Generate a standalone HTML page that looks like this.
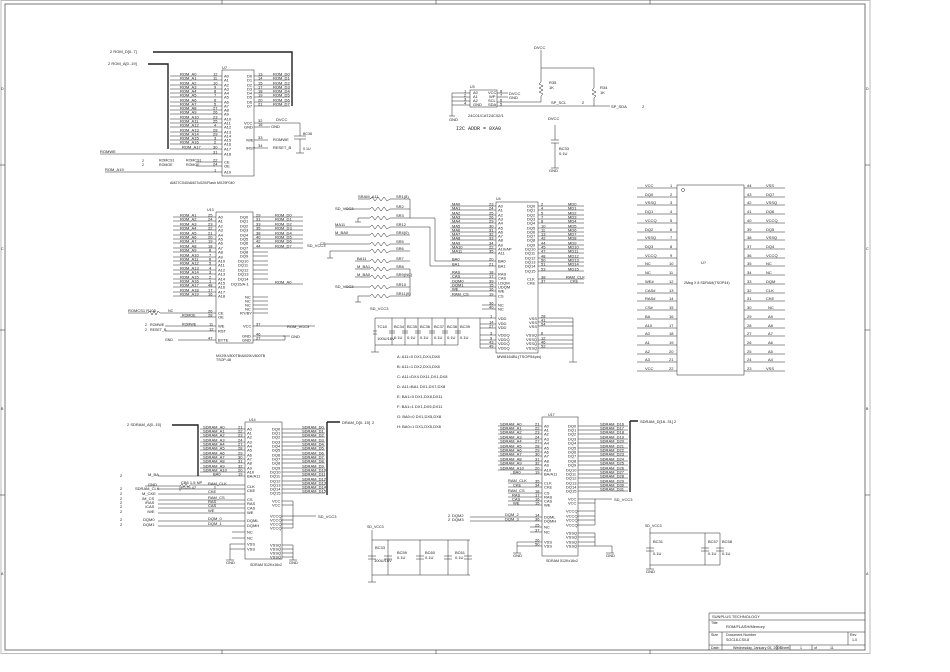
<!DOCTYPE html>
<html><head><meta charset="utf-8">
<style>
html,body{margin:0;padding:0;background:#fff;}
svg{display:block}
text{font-family:"Liberation Sans",sans-serif;font-size:4px;fill:#222}
.s{font-size:3.6px}
.l{stroke:#222;stroke-width:0.5;fill:none}
.b{stroke:#222;stroke-width:1.4;fill:none}
.f{stroke:#777;stroke-width:1;fill:none}
</style></head><body>
<svg width="950" height="672" viewBox="0 0 950 672" xmlns="http://www.w3.org/2000/svg">
<rect x="0" y="0" width="950" height="672" fill="#fff"/>
<!-- frame -->
<rect x="1" y="0.5" width="869" height="653" class="f" style="stroke:#bbb"/>
<rect x="5" y="4" width="860" height="646" class="f"/>
<path class="l" d="M222 0V4M436 0V4M650 0V4M222 650V654M436 650V654M650 650V654M0 165H5M0 330H5M0 495H5M865 165H870M865 330H870M865 495H870"/>
<text x="1" y="90" class="s">D</text><text x="1" y="250" class="s">C</text><text x="1" y="410" class="s">B</text><text x="1" y="575" class="s">A</text>
<text x="866" y="90" class="s">D</text><text x="866" y="250" class="s">C</text><text x="866" y="410" class="s">B</text><text x="866" y="575" class="s">A</text>

<!-- title block -->
<path class="l" d="M709 613H865M709 613V650M709 620H865M709 632H865M709 645H865M722 632V650M848 632V645M777 645V650M790 645V650M812 645V650"/>
<text x="712" y="618">SUNPLUS TECHNOLOGY</text>
<text x="711" y="624" class="s">Title</text><text x="726" y="628">ROM/FLASH/Memory</text>
<text x="711" y="636" class="s">Size</text><text x="726" y="636" class="s">Document Number</text><text x="726" y="641" class="s">SOC18-CS0-8</text>
<text x="850" y="636" class="s">Rev</text><text x="852" y="641" class="s">1.0</text>
<text x="711" y="649" class="s">Date:</text><text x="733" y="649" class="s">Wednesday, January 05, 2005</text>
<text x="780" y="649" class="s">Sheet</text><text x="800" y="649" class="s">1</text><text x="814" y="649" class="s">of</text><text x="830" y="649" class="s">11</text>

<!-- ============ U7 flash ============ -->
<text x="110" y="53">2 ROM_D[0..7]</text>
<text x="108" y="65">2 ROM_A[0..19]</text>
<path class="b" d="M153 52H292V106M148 64H168V149"/>
<rect x="222" y="70" width="32" height="106" class="l"/>
<text x="222" y="69">U7</text>
<path class="l" d="M170 76H222M170 80H222M170 85H222M170 89H222M170 93H222M170 97H222M170 102H222M170 106H222M170 110H222M170 114H222M170 119H222M170 123H222M170 127H222M170 132H222M170 136H222M170 140H222M170 144H222M170 149H222M100 154H222M196 162H222M196 166H222M105 172H222"/>
<g class="s">
<text x="180" y="75.5">ROM_A0</text><text x="180" y="79.5">ROM_A1</text><text x="180" y="84.5">ROM_A2</text><text x="180" y="88.5">ROM_A3</text><text x="180" y="92.5">ROM_A4</text><text x="180" y="96.5">ROM_A5</text><text x="180" y="101.5">ROM_A6</text><text x="180" y="105.5">ROM_A7</text><text x="180" y="109.5">ROM_A8</text><text x="180" y="113.5">ROM_A9</text><text x="180" y="118.5">ROM_A10</text><text x="180" y="122.5">ROM_A11</text><text x="180" y="126.5">ROM_A12</text><text x="180" y="131.5">ROM_A13</text><text x="180" y="135.5">ROM_A14</text><text x="180" y="139.5">ROM_A15</text><text x="180" y="143.5">ROM_A16</text><text x="182" y="148.5">ROM_A17</text>
<text x="213" y="75.5">12</text><text x="213" y="79.5">11</text><text x="213" y="84.5">10</text><text x="214" y="88.5">9</text><text x="214" y="92.5">8</text><text x="214" y="96.5">7</text><text x="214" y="101.5">6</text><text x="214" y="105.5">5</text><text x="213" y="109.5">27</text><text x="213" y="113.5">26</text><text x="213" y="118.5">23</text><text x="213" y="122.5">25</text><text x="214" y="126.5">4</text><text x="213" y="131.5">28</text><text x="213" y="135.5">29</text><text x="214" y="139.5">3</text><text x="214" y="143.5">2</text><text x="213" y="148.5">30</text><text x="213" y="153.5">31</text><text x="213" y="161.5">22</text><text x="213" y="165.5">24</text><text x="214" y="171.5">1</text>
<text x="224" y="77.5">A0</text><text x="224" y="81.5">A1</text><text x="224" y="86.5">A2</text><text x="224" y="90.5">A3</text><text x="224" y="94.5">A4</text><text x="224" y="98.5">A5</text><text x="224" y="103.5">A6</text><text x="224" y="107.5">A7</text><text x="224" y="111.5">A8</text><text x="224" y="115.5">A9</text><text x="224" y="120.5">A10</text><text x="224" y="124.5">A11</text><text x="224" y="128.5">A12</text><text x="224" y="133.5">A13</text><text x="224" y="137.5">A14</text><text x="224" y="141.5">A15</text><text x="224" y="145.5">A16</text><text x="224" y="150.5">A17</text><text x="224" y="155.5">A18</text><text x="224" y="163.5">CE</text><text x="224" y="167.5">OE</text><text x="224" y="173.5">A19</text>
<text x="247" y="77.5">D0</text><text x="247" y="81.5">D1</text><text x="247" y="86.5">D2</text><text x="247" y="90.5">D3</text><text x="247" y="94.5">D4</text><text x="247" y="98.5">D5</text><text x="247" y="103.5">D6</text><text x="247" y="107.5">D7</text>
<text x="244" y="124.5">VCC</text><text x="244" y="128.5">GND</text><text x="246" y="141.5">/WE</text><text x="246" y="149.5">/RST</text>
<text x="258" y="75.5">13</text><text x="258" y="79.5">14</text><text x="258" y="84.5">15</text><text x="258" y="88.5">17</text><text x="258" y="92.5">18</text><text x="258" y="96.5">19</text><text x="258" y="101.5">20</text><text x="258" y="105.5">21</text>
<text x="273" y="75.5">ROM_D0</text><text x="273" y="79.5">ROM_D1</text><text x="273" y="84.5">ROM_D2</text><text x="273" y="88.5">ROM_D3</text><text x="273" y="92.5">ROM_D4</text><text x="273" y="96.5">ROM_D5</text><text x="273" y="101.5">ROM_D6</text><text x="273" y="105.5">ROM_D7</text>
<text x="258" y="122">32</text><text x="258" y="126">16</text><text x="258" y="139">33</text><text x="258" y="147">34</text>
</g>
<path class="l" d="M254 76H290M254 80H290M254 85H290M254 89H290M254 93H290M254 97H290M254 102H290M254 106H290M254 123H300V136M254 127H270M254 140H268M254 148H268M294 136H306M294 139H306M300 139V153M296 153H304"/>
<text x="276" y="121">DVCC</text><text x="271" y="128">GND</text><text x="273" y="141">ROMWE</text><text x="273" y="149">RESET_B</text>
<text x="303" y="135" class="s">BC38</text><text x="303" y="150" class="s">0.1U</text>
<text x="100" y="153">ROMWE</text><text x="105" y="171">ROM_A19</text>
<text x="142" y="162" class="s">2</text><text x="142" y="166" class="s">2</text><text x="159" y="161.5" class="s">ROMCS1</text><text x="159" y="166" class="s">ROMOE</text><text x="186" y="161.5" class="s">ROMCS1</text><text x="186" y="166" class="s">ROMOE</text>
<text x="170" y="184" class="s">AM27C040/AM27c020/Flash MX29F040</text>

<!-- ============ U13 flash ============ -->
<rect x="216" y="212" width="37" height="131" class="l"/>
<text x="207" y="211" class="s">U13</text>
<path class="l" d="M173 217H216M173 221H216M173 226H216M173 230H216M173 235H216M173 239H216M173 243H216M173 248H216M173 252H216M173 257H216M173 261H216M173 265H216M173 270H216M173 274H216M173 279H216M173 283H216M173 287H216M173 292H216M173 296H216M253 217H303M253 221H303M253 226H303M253 230H303M253 235H303M253 239H303M253 243H303M253 248H303M253 252H268M253 256H268M253 261H268M253 265H268M253 270H268M253 274H268M253 279H268M253 284H303M253 297H268M253 301H268M253 305H268M253 309H268M253 313H268M128 313H148l2 -2 2 4 2 -4 2 4 2 -4 2 2H216M180 317H216M165 326H216M165 331H216M178 340H216M253 326H315M253 336H285V340M253 340H285M283 336H290"/>
<g class="s">
<text x="180" y="216.5">ROM_A1</text><text x="180" y="220.5">ROM_A2</text><text x="180" y="225.5">ROM_A3</text><text x="180" y="229.5">ROM_A4</text><text x="180" y="234.5">ROM_A5</text><text x="180" y="238.5">ROM_A6</text><text x="180" y="242.5">ROM_A7</text><text x="180" y="247.5">ROM_A8</text><text x="180" y="251.5">ROM_A9</text><text x="180" y="256.5">ROM_A10</text><text x="180" y="260.5">ROM_A11</text><text x="180" y="264.5">ROM_A12</text><text x="180" y="269.5">ROM_A13</text><text x="180" y="273.5">ROM_A14</text><text x="180" y="278.5">ROM_A15</text><text x="180" y="282.5">ROM_A16</text><text x="180" y="286.5">ROM_A17</text><text x="180" y="291.5">ROM_A18</text><text x="180" y="295.5">ROM_A19</text>
<text x="208" y="216.5">25</text><text x="208" y="220.5">24</text><text x="208" y="225.5">23</text><text x="208" y="229.5">22</text><text x="208" y="234.5">21</text><text x="208" y="238.5">20</text><text x="208" y="242.5">19</text><text x="208" y="247.5">18</text><text x="209" y="251.5">8</text><text x="209" y="256.5">7</text><text x="209" y="260.5">6</text><text x="209" y="264.5">5</text><text x="209" y="269.5">4</text><text x="209" y="273.5">3</text><text x="209" y="278.5">2</text><text x="209" y="282.5">1</text><text x="208" y="286.5">48</text><text x="208" y="291.5">17</text><text x="208" y="295.5">16</text>
<text x="218" y="218.5">A0</text><text x="218" y="222.5">A1</text><text x="218" y="227.5">A2</text><text x="218" y="231.5">A3</text><text x="218" y="236.5">A4</text><text x="218" y="240.5">A5</text><text x="218" y="244.5">A6</text><text x="218" y="249.5">A7</text><text x="218" y="253.5">A8</text><text x="218" y="258.5">A9</text><text x="218" y="262.5">A10</text><text x="218" y="266.5">A11</text><text x="218" y="271.5">A12</text><text x="218" y="275.5">A13</text><text x="218" y="280.5">A14</text><text x="218" y="284.5">A15</text><text x="218" y="288.5">A16</text><text x="218" y="293.5">A17</text><text x="218" y="297.5">A18</text>
<text x="240" y="218.5">DQ0</text><text x="240" y="222.5">DQ1</text><text x="240" y="227.5">DQ2</text><text x="240" y="231.5">DQ3</text><text x="240" y="236.5">DQ4</text><text x="240" y="240.5">DQ5</text><text x="240" y="244.5">DQ6</text><text x="240" y="249.5">DQ7</text><text x="240" y="253.5">DQ8</text><text x="240" y="257.5">DQ9</text><text x="238" y="262.5">DQ10</text><text x="238" y="266.5">DQ11</text><text x="238" y="271.5">DQ12</text><text x="238" y="275.5">DQ13</text><text x="238" y="280.5">DQ14</text><text x="231" y="285.5">DQ15/A-1</text>
<text x="245" y="298.5">NC</text><text x="245" y="302.5">NC</text><text x="245" y="306.5">NC</text><text x="245" y="310.5">NC</text><text x="240" y="314.5">RY/BY</text>
<text x="218" y="314.5">CE</text><text x="218" y="318.5">OE</text><text x="218" y="327.5">WE</text><text x="218" y="332.5">RST</text><text x="218" y="341.5">BYTE</text>
<text x="243" y="327.5">VCC</text><text x="242" y="337.5">GND</text><text x="242" y="341.5">GND</text>
<text x="256" y="216.5">29</text><text x="256" y="220.5">31</text><text x="256" y="225.5">33</text><text x="256" y="229.5">35</text><text x="256" y="234.5">38</text><text x="256" y="238.5">40</text><text x="256" y="242.5">42</text><text x="256" y="247.5">44</text>
<text x="275" y="216.5">ROM_D0</text><text x="275" y="220.5">ROM_D1</text><text x="275" y="225.5">ROM_D2</text><text x="275" y="229.5">ROM_D3</text><text x="275" y="234.5">ROM_D4</text><text x="275" y="238.5">ROM_D5</text><text x="275" y="242.5">ROM_D6</text><text x="275" y="247.5">ROM_D7</text><text x="275" y="283.5">ROM_A0</text>
<text x="208" y="312.5">26</text><text x="208" y="316.5">28</text><text x="209" y="325.5">11</text><text x="209" y="330.5">12</text><text x="208" y="339.5">47</text><text x="256" y="325.5">37</text><text x="256" y="335.5">46</text><text x="256" y="339.5">27</text>
</g>
<text x="307" y="247">SD_VCC3</text>
<text x="128" y="312">ROMCS1 R105</text><text x="168" y="312" class="s">NC</text>
<text x="182" y="316.5" class="s">ROMOE</text><text x="182" y="325.5" class="s">ROMWE</text>
<text x="145" y="326" class="s">2</text><text x="145" y="331" class="s">2</text><text x="150" y="326" class="s">ROMWE</text><text x="150" y="331" class="s">RESET_B</text><text x="165" y="341" class="s">GND</text>
<text x="287" y="328">ROM_VCC3</text><text x="291" y="338">GND</text>
<text x="216" y="357" class="s">MX29LV800TB/AM29LV800TB</text><text x="216" y="361" class="s">TSOP-48</text>

<!-- ============ SR resistors ============ -->
<path class="l" d="M358 199H370l2 -2 3 4 3 -4 3 4 3 -4 3 4 3 -2H410M345 209H370l2 -2 3 4 3 -4 3 4 3 -4 3 4 3 -2H410M358 218H370l2 -2 3 4 3 -4 3 4 3 -4 3 4 3 -2H410M335 227H370l2 -2 3 4 3 -4 3 4 3 -4 3 4 3 -2H410M335 235H370l2 -2 3 4 3 -4 3 4 3 -4 3 4 3 -2H410M325 244H370l2 -2 3 4 3 -4 3 4 3 -4 3 4 3 -2H410M330 251H370l2 -2 3 4 3 -4 3 4 3 -4 3 4 3 -2H410M355 261H370l2 -2 3 4 3 -4 3 4 3 -4 3 4 3 -2H410M355 269H370l2 -2 3 4 3 -4 3 4 3 -4 3 4 3 -2H410M355 277H370l2 -2 3 4 3 -4 3 4 3 -4 3 4 3 -2H410M345 287H370l2 -2 3 4 3 -4 3 4 3 -4 3 4 3 -2H410M358 296H370l2 -2 3 4 3 -4 3 4 3 -4 3 4 3 -2H410M410 199V218M410 218H435V261H496M410 227H430V266H496M410 269V296M358 218V222M355 222H361M330 251V258M327 258H333M358 296V302M355 302H361"/>
<g class="s">
<text x="396" y="198">SR1(8)</text><text x="396" y="208">SR2</text><text x="396" y="217">SR3</text><text x="396" y="226">SR12</text><text x="396" y="234">SR4(0)</text><text x="396" y="243">SR5</text><text x="396" y="250">SR6</text><text x="396" y="260">SR7</text><text x="396" y="268">SR8</text><text x="396" y="276">SR9(NC)</text><text x="396" y="286">SR10</text><text x="396" y="295">SR11(0)</text>
<text x="358" y="198">SRAM_A11</text><text x="335" y="210">SD_VCC3</text><text x="335" y="226">MA11</text><text x="335" y="234">M_BA0</text><text x="320" y="245">CS</text><text x="357" y="260">BA11</text><text x="357" y="268">M_BA1</text><text x="357" y="276">M_BA0</text><text x="335" y="288">SD_VCC3</text>
</g>

<!-- ============ U4 SDRAM ============ -->
<rect x="496" y="202" width="42" height="151" class="l"/>
<text x="496" y="200" class="s">U4</text>
<path class="l" d="M450 206H496M450 210H496M450 215H496M450 219H496M450 223H496M450 228H496M450 232H496M450 236H496M450 240H496M450 245H496M450 249H496M450 253H496M450 274H496M450 278H496M450 283H496M450 287H496M450 291H496M450 296H496M482 305H496M482 309H496M538 206H584M538 210H584M538 215H584M538 219H584M538 223H584M538 228H584M538 232H584M538 236H584M538 240H584M538 245H584M538 249H584M538 253H584M538 258H584M538 262H584M538 266H584M538 271H584M538 279H584M538 283H584M375 318H496M480 324H496M480 328H496M480 318V348M480 335H496M480 340H496M480 344H496M480 348H496M538 318H573M538 322H573M538 326H573M538 335H573M538 340H573M538 344H573M538 348H573M573 318V362M569 362H577M375 318V352M392 318V345M405 318V345M418 318V345M432 318V345M445 318V345M458 318V345M375 345H458M371 352H379M373 331H377M373 334H377M389 331H395M389 333H395M402 331H408M402 333H408M415 331H421M415 333H421M429 331H435M429 333H435M442 331H448M442 333H448M455 331H461M455 333H461"/>
<g class="s">
<text x="452" y="205.5">MA0</text><text x="452" y="209.5">MA1</text><text x="452" y="214.5">MA2</text><text x="452" y="218.5">MA3</text><text x="452" y="222.5">MA4</text><text x="452" y="227.5">MA5</text><text x="452" y="231.5">MA6</text><text x="452" y="235.5">MA7</text><text x="452" y="239.5">MA8</text><text x="452" y="244.5">MA9</text><text x="452" y="248.5">MA10</text><text x="452" y="252.5">MA11</text>
<text x="452" y="260.5">BA0</text><text x="452" y="265.5">BA1</text><text x="452" y="273.5">RAS</text><text x="452" y="277.5">CAS</text><text x="452" y="282.5">DQM0</text><text x="452" y="286.5">DQM1</text><text x="452" y="290.5">WE</text><text x="452" y="295.5">RAM_CS</text>
<text x="489" y="205.5">23</text><text x="489" y="209.5">24</text><text x="489" y="214.5">25</text><text x="489" y="218.5">26</text><text x="489" y="222.5">29</text><text x="489" y="227.5">30</text><text x="489" y="231.5">31</text><text x="489" y="235.5">32</text><text x="489" y="239.5">33</text><text x="489" y="244.5">34</text><text x="489" y="248.5">22</text><text x="489" y="252.5">35</text><text x="489" y="260.5">20</text><text x="489" y="265.5">21</text><text x="489" y="273.5">18</text><text x="489" y="277.5">17</text><text x="489" y="282.5">39</text><text x="489" y="286.5">15</text><text x="489" y="290.5">16</text><text x="489" y="295.5">19</text><text x="489" y="304.5">36</text><text x="489" y="308.5">40</text><text x="490" y="317.5">1</text><text x="489" y="323.5">14</text><text x="489" y="327.5">27</text><text x="490" y="334.5">3</text><text x="490" y="339.5">9</text><text x="489" y="343.5">43</text><text x="489" y="347.5">49</text>
<text x="498" y="207.5">A0</text><text x="498" y="211.5">A1</text><text x="498" y="216.5">A2</text><text x="498" y="220.5">A3</text><text x="498" y="224.5">A4</text><text x="498" y="229.5">A5</text><text x="498" y="233.5">A6</text><text x="498" y="237.5">A7</text><text x="498" y="241.5">A8</text><text x="498" y="246.5">A9</text><text x="498" y="250.5">A10/AP</text><text x="498" y="254.5">A11</text><text x="498" y="262.5">BA0</text><text x="498" y="267.5">BA1</text><text x="498" y="275.5">RAS</text><text x="498" y="279.5">CAS</text><text x="498" y="284.5">LDQM</text><text x="498" y="288.5">UDQM</text><text x="498" y="292.5">WE</text><text x="498" y="297.5">CS</text><text x="498" y="306.5">NC</text><text x="498" y="310.5">NC</text><text x="498" y="320">VDD</text><text x="498" y="325">VDD</text><text x="498" y="329">VDD</text><text x="498" y="336.5">VDDQ</text><text x="498" y="341">VDDQ</text><text x="498" y="345">VDDQ</text><text x="498" y="349.5">VDDQ</text>
<text x="527" y="207.5">DQ0</text><text x="527" y="211.5">DQ1</text><text x="527" y="216.5">DQ2</text><text x="527" y="220.5">DQ3</text><text x="527" y="224.5">DQ4</text><text x="527" y="229.5">DQ5</text><text x="527" y="233.5">DQ6</text><text x="527" y="237.5">DQ7</text><text x="527" y="241.5">DQ8</text><text x="527" y="246.5">DQ9</text><text x="525" y="250.5">DQ10</text><text x="525" y="254.5">DQ11</text><text x="525" y="259.5">DQ12</text><text x="525" y="263.5">DQ13</text><text x="525" y="267.5">DQ14</text><text x="525" y="272.5">DQ15</text><text x="527" y="280.5">CLK</text><text x="527" y="284.5">CKE</text>
<text x="529" y="320">VSS</text><text x="529" y="324">VSS</text><text x="529" y="328">VSS</text><text x="526" y="336.5">VSSQ</text><text x="526" y="341">VSSQ</text><text x="526" y="345">VSSQ</text><text x="526" y="349.5">VSSQ</text>
<text x="541" y="205.5">2</text><text x="541" y="209.5">4</text><text x="541" y="214.5">5</text><text x="541" y="218.5">7</text><text x="541" y="222.5">8</text><text x="541" y="227.5">10</text><text x="541" y="231.5">11</text><text x="541" y="235.5">13</text><text x="541" y="239.5">42</text><text x="541" y="244.5">44</text><text x="541" y="248.5">45</text><text x="541" y="252.5">47</text><text x="541" y="257.5">48</text><text x="541" y="261.5">50</text><text x="541" y="265.5">51</text><text x="541" y="270.5">53</text><text x="541" y="278.5">38</text><text x="541" y="282.5">37</text>
<text x="568" y="205.5">MD0</text><text x="568" y="209.5">MD1</text><text x="568" y="214.5">MD2</text><text x="568" y="218.5">MD3</text><text x="568" y="222.5">MD4</text><text x="568" y="227.5">MD5</text><text x="568" y="231.5">MD6</text><text x="568" y="235.5">MD7</text><text x="568" y="239.5">MD8</text><text x="568" y="244.5">MD9</text><text x="568" y="248.5">MD10</text><text x="568" y="252.5">MD11</text><text x="568" y="257.5">MD12</text><text x="568" y="261.5">MD13</text><text x="568" y="265.5">MD14</text><text x="568" y="270.5">MD15</text><text x="566" y="278.5">RAM_CLK</text><text x="570" y="282.5">CKE</text>
<text x="541" y="317.5">28</text><text x="541" y="321.5">41</text><text x="541" y="325.5">54</text><text x="541" y="334.5">6</text><text x="541" y="339.5">12</text><text x="541" y="343.5">46</text><text x="541" y="347.5">52</text>
<text x="497" y="358">MW8164BL(TSOP54pin)</text>
<text x="377" y="328">TC18</text><text x="377" y="340">100U/16V</text>
<text x="394" y="328">BC34</text><text x="407" y="328">BC35</text><text x="420" y="328">BC36</text><text x="434" y="328">BC37</text><text x="447" y="328">BC38</text><text x="460" y="328">BC39</text>
<text x="394" y="339">0.1U</text><text x="407" y="339">0.1U</text><text x="420" y="339">0.1U</text><text x="434" y="339">0.1U</text><text x="447" y="339">0.1U</text><text x="460" y="339">0.1U</text>
</g>
<text x="370" y="310">SD_VCC3</text>
<g class="s" style="font-family:'Liberation Mono',monospace">
<text x="397" y="358">A: A11=0 DX1,DX4,DX8</text><text x="397" y="368">B: A11=1 DX2,DX4,DX8</text><text x="397" y="378">C: A11=DX4 DX11,DX1,DX8</text><text x="397" y="388">D: A11=BA1 DX1,DX7,DX8</text><text x="397" y="398">E: BA1=0 DX1,DX8,DX11</text><text x="397" y="408">F: BA1=1 DX1,DX5,DX11</text><text x="397" y="418">G: BA0=0 DX1,DX5,DX8</text><text x="397" y="428">H: BA0=1 DX1,DX5,DX8</text>
</g>

<!-- ============ I2C EEPROM ============ -->
<rect x="470" y="90" width="27" height="17" class="l"/>
<text x="470" y="88" class="s">U3</text>
<path class="l" d="M452 93H470M452 97H470M452 101H470M452 105H470M452 93V116M449 116H455M497 93H508M497 97H508M497 102H541M497 106H594M541 50V82l-2 2 4 2 -4 2 4 2 -4 2 4 2 -2 2V102M541 68H594V88l-2 2 4 2 -4 2 4 2 -2 2V106M594 106H610M555 125V140M551 140H559M551 143H559M555 143V168M551 168H559"/>
<g class="s">
<text x="473" y="94">A0</text><text x="473" y="98">A1</text><text x="473" y="102">A2</text><text x="473" y="106">GND</text><text x="488" y="94">VCC</text><text x="489" y="98">WP</text><text x="488" y="102">SCL</text><text x="488" y="106">SDA</text>
<text x="464" y="92.5">1</text><text x="464" y="96.5">2</text><text x="464" y="100.5">3</text><text x="464" y="104.5">4</text><text x="500" y="92.5">8</text><text x="500" y="96.5">7</text><text x="500" y="101.5">6</text><text x="500" y="105.5">5</text>
<text x="509" y="95">DVCC</text><text x="509" y="99">GND</text><text x="449" y="121">GND</text>
<text x="534" y="49">DVCC</text><text x="549" y="84">R35</text><text x="549" y="89">1K</text><text x="600" y="89">R34</text><text x="600" y="94">1K</text>
<text x="551" y="104">SP_SCL</text><text x="582" y="104">2</text><text x="611" y="108">SP_SDA</text><text x="642" y="108">2</text>
<text x="548" y="120">DVCC</text><text x="559" y="150">BC33</text><text x="559" y="155">0.1U</text><text x="549" y="172">GND</text>
<text x="468" y="117">24C01/CAT24C02/1</text>
</g>
<text x="456" y="130" style="font-family:'Liberation Mono',monospace;font-size:5px">I2C ADDR = 0XA0</text>

<!-- ============ U? big SDRAM TSOP44 ============ -->
<rect x="677" y="185" width="67" height="190" class="l"/>
<circle cx="683" cy="190" r="1.5" class="l"/>
<path class="l" d="M637 188H677M637 197H677M637 205H677M637 214H677M637 223H677M637 232H677M637 240H677M637 249H677M637 258H677M637 266H677M637 275H677M637 284H677M637 293H677M637 301H677M637 310H677M637 319H677M637 328H677M637 336H677M637 345H677M637 354H677M637 362H677M637 371H677M744 188H785M744 197H785M744 205H785M744 214H785M744 223H785M744 232H785M744 240H785M744 249H785M744 258H785M744 266H785M744 275H785M744 284H785M744 293H785M744 301H785M744 310H785M744 319H785M744 328H785M744 336H785M744 345H785M744 354H785M744 362H785M744 371H785"/>
<g class="s">
<text x="645" y="187">VCC</text><text x="645" y="196">DQ0</text><text x="645" y="204">VSSQ</text><text x="645" y="213">DQ1</text><text x="645" y="222">VCCQ</text><text x="645" y="231">DQ2</text><text x="645" y="239">VSSQ</text><text x="645" y="248">DQ3</text><text x="645" y="257">VCCQ</text><text x="645" y="265">NC</text><text x="645" y="274">NC</text><text x="645" y="283">WE#</text><text x="645" y="292">CAS#</text><text x="645" y="300">RAS#</text><text x="645" y="309">CS#</text><text x="645" y="318">BA</text><text x="645" y="327">A10</text><text x="645" y="335">A0</text><text x="645" y="344">A1</text><text x="645" y="353">A2</text><text x="645" y="361">A3</text><text x="645" y="370">VCC</text>
<text x="670" y="187">1</text><text x="670" y="196">2</text><text x="670" y="204">3</text><text x="670" y="213">4</text><text x="670" y="222">5</text><text x="670" y="231">6</text><text x="670" y="239">7</text><text x="670" y="248">8</text><text x="670" y="257">9</text><text x="669" y="265">10</text><text x="669" y="274">11</text><text x="669" y="283">12</text><text x="669" y="292">13</text><text x="669" y="300">14</text><text x="669" y="309">15</text><text x="669" y="318">16</text><text x="669" y="327">17</text><text x="669" y="335">18</text><text x="669" y="344">19</text><text x="669" y="353">20</text><text x="669" y="361">21</text><text x="669" y="370">22</text>
<text x="747" y="187">44</text><text x="747" y="196">43</text><text x="747" y="204">42</text><text x="747" y="213">41</text><text x="747" y="222">40</text><text x="747" y="231">39</text><text x="747" y="239">38</text><text x="747" y="248">37</text><text x="747" y="257">36</text><text x="747" y="265">35</text><text x="747" y="274">34</text><text x="747" y="283">33</text><text x="747" y="292">32</text><text x="747" y="300">31</text><text x="747" y="309">30</text><text x="747" y="318">29</text><text x="747" y="327">28</text><text x="747" y="335">27</text><text x="747" y="344">26</text><text x="747" y="353">25</text><text x="747" y="361">24</text><text x="747" y="370">23</text>
<text x="766" y="187">VSS</text><text x="766" y="196">DQ7</text><text x="766" y="204">VSSQ</text><text x="766" y="213">DQ6</text><text x="766" y="222">VCCQ</text><text x="766" y="231">DQ5</text><text x="766" y="239">VSSQ</text><text x="766" y="248">DQ4</text><text x="766" y="257">VCCQ</text><text x="766" y="265">NC</text><text x="766" y="274">NC</text><text x="766" y="283">DQM</text><text x="766" y="292">CLK</text><text x="766" y="300">CKE</text><text x="768" y="309">NC</text><text x="768" y="318">A9</text><text x="768" y="327">A8</text><text x="768" y="335">A7</text><text x="768" y="344">A6</text><text x="768" y="353">A5</text><text x="768" y="361">A4</text><text x="766" y="370">VSS</text>
</g>
<text x="701" y="264">U?</text>
<text x="684" y="284" class="s">2Meg X 8 SDRAM(TSOP44)</text>

<!-- ============ U14 SDRAM bottom-left ============ -->
<text x="127" y="426">2 SDRAM_A[0..15]</text>
<path class="b" d="M172 425H198V476M327 422V495M327 422H340"/>
<rect x="245" y="422" width="37" height="137" class="l"/>
<text x="249" y="421" class="s">U14</text>
<path class="l" d="M200 429H245M200 433H245M200 437H245M200 442H245M200 446H245M200 450H245M200 455H245M200 459H245M200 463H245M200 468H245M200 472H245M158 476H245M145 486H180l2 -2 2 3 2 -3 2 3 2 -2H215H245M158 489H245M158 494H245M180 486V491M215 486V489M158 500H245M158 504H245M158 508H245M158 513H245M158 521H245M158 526H245M232 532H245M232 538H245M230 544H245M230 549H245M230 544V560M282 429H325M282 433H325M282 437H325M282 442H325M282 446H325M282 450H325M282 455H325M282 459H325M282 463H325M282 468H325M282 472H325M282 476H325M282 481H325M282 485H325M282 489H325M282 493H325M282 501H293M282 505H293M293 501V528M282 516H316M282 520H293M282 524H293M282 528H293M282 545H293M282 549H293M282 553H293M282 557H293M293 545V560M289 560H297M226 560H234"/>
<g class="s">
<text x="203" y="428.5">SDRAM_A0</text><text x="203" y="432.5">SDRAM_A1</text><text x="203" y="436.5">SDRAM_A2</text><text x="203" y="441.5">SDRAM_A3</text><text x="203" y="445.5">SDRAM_A4</text><text x="203" y="449.5">SDRAM_A5</text><text x="203" y="454.5">SDRAM_A6</text><text x="203" y="458.5">SDRAM_A7</text><text x="203" y="462.5">SDRAM_A8</text><text x="203" y="467.5">SDRAM_A9</text><text x="203" y="471.5">SDRAM_A10</text><text x="213" y="475.5">BA0</text>
<text x="238" y="428.5">21</text><text x="238" y="432.5">22</text><text x="238" y="436.5">23</text><text x="238" y="441.5">24</text><text x="238" y="445.5">27</text><text x="238" y="449.5">28</text><text x="238" y="454.5">29</text><text x="238" y="458.5">30</text><text x="238" y="462.5">31</text><text x="238" y="467.5">32</text><text x="238" y="471.5">20</text><text x="238" y="475.5">19</text>
<text x="247" y="430.5">A0</text><text x="247" y="434.5">A1</text><text x="247" y="438.5">A2</text><text x="247" y="443.5">A3</text><text x="247" y="447.5">A4</text><text x="247" y="451.5">A5</text><text x="247" y="456.5">A6</text><text x="247" y="460.5">A7</text><text x="247" y="464.5">A8</text><text x="247" y="469.5">A9</text><text x="247" y="473.5">A10</text><text x="247" y="477.5">BA/A11</text><text x="247" y="488">CLK</text><text x="247" y="492">CKE</text><text x="247" y="501">CS</text><text x="247" y="505">RAS</text><text x="247" y="509.5">CAS</text><text x="247" y="514">WE</text><text x="247" y="522">DQML</text><text x="247" y="527">DQMH</text><text x="247" y="533.5">NC</text><text x="247" y="539.5">NC</text><text x="247" y="545.5">VSS</text><text x="247" y="550.5">VSS</text>
<text x="272" y="430.5">DQ0</text><text x="272" y="434.5">DQ1</text><text x="272" y="438.5">DQ2</text><text x="272" y="443.5">DQ3</text><text x="272" y="447.5">DQ4</text><text x="272" y="451.5">DQ5</text><text x="272" y="456.5">DQ6</text><text x="272" y="460.5">DQ7</text><text x="272" y="464.5">DQ8</text><text x="272" y="469.5">DQ9</text><text x="270" y="473.5">DQ10</text><text x="270" y="477.5">DQ11</text><text x="270" y="482.5">DQ12</text><text x="270" y="486.5">DQ13</text><text x="270" y="490.5">DQ14</text><text x="270" y="494.5">DQ15</text>
<text x="272" y="502.5">VCC</text><text x="272" y="506.5">VCC</text><text x="270" y="517.5">VCCQ</text><text x="270" y="521.5">VCCQ</text><text x="270" y="525.5">VCCQ</text><text x="270" y="529.5">VCCQ</text><text x="270" y="546.5">VSSQ</text><text x="270" y="550.5">VSSQ</text><text x="270" y="554.5">VSSQ</text><text x="270" y="558.5">VSSQ</text>
<text x="302" y="428.5">SDRAM_D0</text><text x="302" y="432.5">SDRAM_D1</text><text x="302" y="436.5">SDRAM_D2</text><text x="302" y="441.5">SDRAM_D3</text><text x="302" y="445.5">SDRAM_D4</text><text x="302" y="449.5">SDRAM_D5</text><text x="302" y="454.5">SDRAM_D6</text><text x="302" y="458.5">SDRAM_D7</text><text x="302" y="462.5">SDRAM_D8</text><text x="302" y="467.5">SDRAM_D9</text><text x="302" y="471.5">SDRAM_D10</text><text x="302" y="475.5">SDRAM_D11</text><text x="302" y="480.5">SDRAM_D12</text><text x="302" y="484.5">SDRAM_D13</text><text x="302" y="488.5">SDRAM_D14</text><text x="302" y="492.5">SDRAM_D15</text>
<text x="120" y="477">2</text><text x="148" y="476">M_BA</text><text x="148" y="486">GND</text><text x="120" y="490">2</text><text x="135" y="490">SDRAM_CLK</text><text x="120" y="495">2</text><text x="142" y="495">M_CKE</text>
<text x="120" y="500">2</text><text x="120" y="504">2</text><text x="120" y="508">2</text><text x="120" y="513">2</text><text x="142" y="500">/M_CS</text><text x="145" y="504">/RAS</text><text x="145" y="508">/CAS</text><text x="147" y="513">/WE</text>
<text x="120" y="521">2</text><text x="120" y="526">2</text><text x="143" y="521">DQM0</text><text x="143" y="526">DQM1</text>
<text x="181" y="484">CB6 1.5 NP</text><text x="181" y="489">R125 47</text><text x="208" y="485">RAM_CLK</text><text x="208" y="493">CKE</text><text x="208" y="499">RAM_CS</text><text x="208" y="503">RAS</text><text x="208" y="507">CAS</text><text x="208" y="512">WE</text><text x="208" y="520">DQM_0</text><text x="208" y="525">DQM_1</text>
<text x="226" y="564">GND</text><text x="289" y="564">GND</text>
</g>
<text x="342" y="424">DRAM_D[0..15]</text><text x="372" y="424">2</text>
<text x="318" y="518">SD_VCC3</text>
<text x="250" y="566" class="s">SDRAM 512Kx16x2</text>

<!-- caps middle bottom -->
<text x="367" y="528" class="s">SD_VCC3</text>
<path class="l" d="M372 530V575M372 540H470M372 575H470M388 540V575M420 540V575M448 540V575M468 540V575M368 556H376M368 559H376M384 556H392M384 559H392M416 556H424M416 559H424M444 556H452M444 559H452M464 556H472M464 559H472M372 575V582M368 582H376"/>
<g class="s"><text x="375" y="549">BC33</text><text x="374" y="562">100U/16V</text><text x="397" y="554">BC59</text><text x="397" y="559">0.1U</text><text x="425" y="554">BC60</text><text x="425" y="559">0.1U</text><text x="455" y="554">BC61</text><text x="455" y="559">0.1U</text></g>

<!-- ============ U17 SDRAM bottom-right ============ -->
<rect x="542" y="417" width="36" height="139" class="l"/>
<text x="548" y="416" class="s">U17</text>
<path class="b" d="M630 421V492M630 421H638"/>
<path class="l" d="M498 426H542M498 430H542M498 434H542M498 439H542M498 443H542M498 448H542M498 452H542M498 456H542M498 461H542M498 465H542M498 470H542M510 474H542M508 483H542M508 487H542M508 493H542M508 497H542M508 501H542M508 505H542M470 517H542M470 521H542M530 527H542M530 532H542M517 542H542M517 546H542M517 542V553M513 553H521M578 426H628M578 430H628M578 434H628M578 439H628M578 443H628M578 448H628M578 452H628M578 456H628M578 461H628M578 465H628M578 470H628M578 474H628M578 478H628M578 483H628M578 487H628M578 491H628M578 499H612M578 503H595M595 499V525M578 511H595M578 516H595M578 520H595M578 525H595M578 533H595M578 537H595M578 542H595M578 546H612V553M595 533V546M606 553H614"/>
<g class="s">
<text x="500" y="425.5">SDRAM_A0</text><text x="500" y="429.5">SDRAM_A1</text><text x="500" y="433.5">SDRAM_A2</text><text x="500" y="438.5">SDRAM_A3</text><text x="500" y="442.5">SDRAM_A4</text><text x="500" y="447.5">SDRAM_A5</text><text x="500" y="451.5">SDRAM_A6</text><text x="500" y="455.5">SDRAM_A7</text><text x="500" y="460.5">SDRAM_A8</text><text x="500" y="464.5">SDRAM_A9</text><text x="500" y="469.5">SDRAM_A10</text><text x="513" y="473.5">BA0</text>
<text x="508" y="482">RAM_CLK</text><text x="513" y="486.5">CKE</text><text x="508" y="492">RAM_CS</text><text x="512" y="496.5">RAS</text><text x="512" y="500.5">CAS</text><text x="513" y="504.5">WE</text><text x="505" y="516">DQM_2</text><text x="505" y="520.5">DQM_3</text>
<text x="448" y="517">2</text><text x="448" y="521">2</text><text x="452" y="517">DQM2</text><text x="452" y="521">DQM3</text>
<text x="535" y="425.5">21</text><text x="535" y="429.5">22</text><text x="535" y="433.5">23</text><text x="535" y="438.5">24</text><text x="535" y="442.5">27</text><text x="535" y="447.5">28</text><text x="535" y="451.5">29</text><text x="535" y="455.5">30</text><text x="535" y="460.5">31</text><text x="535" y="464.5">32</text><text x="535" y="469.5">20</text><text x="535" y="473.5">19</text><text x="535" y="482.5">35</text><text x="535" y="486.5">34</text><text x="535" y="492.5">18</text><text x="535" y="496.5">17</text><text x="535" y="500.5">16</text><text x="535" y="504.5">15</text><text x="535" y="516.5">14</text><text x="535" y="520.5">36</text><text x="535" y="526.5">25</text><text x="535" y="531.5">37</text><text x="535" y="541.5">26</text><text x="535" y="545.5">50</text>
<text x="544" y="427.5">A0</text><text x="544" y="431.5">A1</text><text x="544" y="435.5">A2</text><text x="544" y="440.5">A3</text><text x="544" y="444.5">A4</text><text x="544" y="449.5">A5</text><text x="544" y="453.5">A6</text><text x="544" y="457.5">A7</text><text x="544" y="462.5">A8</text><text x="544" y="466.5">A9</text><text x="544" y="471.5">A10</text><text x="544" y="475.5">BA/A11</text><text x="544" y="484.5">CLK</text><text x="544" y="488.5">CKE</text><text x="544" y="494.5">CS</text><text x="544" y="498.5">RAS</text><text x="544" y="502.5">CAS</text><text x="544" y="506.5">WE</text><text x="544" y="518.5">DQML</text><text x="544" y="522.5">DQMH</text><text x="544" y="528.5">NC</text><text x="544" y="533.5">NC</text><text x="544" y="543.5">VSS</text><text x="544" y="547.5">VSS</text>
<text x="568" y="427.5">DQ0</text><text x="568" y="431.5">DQ1</text><text x="568" y="435.5">DQ2</text><text x="568" y="440.5">DQ3</text><text x="568" y="444.5">DQ4</text><text x="568" y="449.5">DQ5</text><text x="568" y="453.5">DQ6</text><text x="568" y="457.5">DQ7</text><text x="568" y="462.5">DQ8</text><text x="568" y="466.5">DQ9</text><text x="566" y="471.5">DQ10</text><text x="566" y="475.5">DQ11</text><text x="566" y="479.5">DQ12</text><text x="566" y="484.5">DQ13</text><text x="566" y="488.5">DQ14</text><text x="566" y="492.5">DQ15</text>
<text x="568" y="500.5">VCC</text><text x="568" y="504.5">VCC</text><text x="566" y="512.5">VCCQ</text><text x="566" y="517.5">VCCQ</text><text x="566" y="521.5">VCCQ</text><text x="566" y="526.5">VCCQ</text><text x="566" y="534.5">VSSQ</text><text x="566" y="538.5">VSSQ</text><text x="566" y="543.5">VSSQ</text><text x="566" y="547.5">VSSQ</text>
<text x="600" y="425.5">SDRAM_D16</text><text x="600" y="429.5">SDRAM_D17</text><text x="600" y="433.5">SDRAM_D18</text><text x="600" y="438.5">SDRAM_D19</text><text x="600" y="442.5">SDRAM_D20</text><text x="600" y="447.5">SDRAM_D21</text><text x="600" y="451.5">SDRAM_D22</text><text x="600" y="455.5">SDRAM_D23</text><text x="600" y="460.5">SDRAM_D24</text><text x="600" y="464.5">SDRAM_D25</text><text x="600" y="469.5">SDRAM_D26</text><text x="600" y="473.5">SDRAM_D27</text><text x="600" y="477.5">SDRAM_D28</text><text x="600" y="482.5">SDRAM_D29</text><text x="600" y="486.5">SDRAM_D30</text><text x="600" y="490.5">SDRAM_D31</text>
<text x="513" y="557">GND</text><text x="606" y="557">GND</text>
</g>
<text x="640" y="423">SDRAM_D[16..31]  2</text>
<text x="614" y="501">SD_VCC3</text>
<text x="546" y="562" class="s">SDRAM 512Kx16x2</text>

<!-- caps bottom right -->
<text x="645" y="527" class="s">SD_VCC3</text>
<path class="l" d="M650 528V565M650 533H720M650 565H720M705 533V565M720 533V565M646 548H654M646 551H654M701 548H709M701 551H709M716 548H724M716 551H724M650 565V569M646 569H654"/>
<g class="s"><text x="653" y="543">BC31</text><text x="653" y="555">0.1U</text><text x="708" y="543">BC57</text><text x="708" y="555">0.1U</text><text x="722" y="543">BC58</text><text x="722" y="555">0.1U</text><text x="646" y="573">GND</text></g>
</svg>
</body></html>
